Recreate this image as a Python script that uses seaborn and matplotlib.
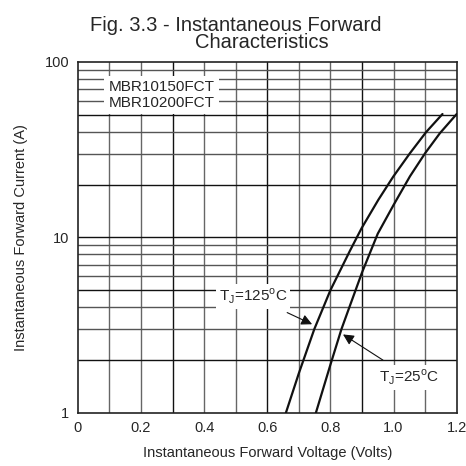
import numpy as np
import pandas as pd
import matplotlib
matplotlib.use("Agg")
import matplotlib.pyplot as plt
import seaborn as sns

# values
v_125 = [0.659, 0.700, 0.749, 0.800, 0.862, 0.899, 0.952, 0.999, 1.052, 1.103, 1.155]
i_125 = [1.0, 1.68, 3.0, 5.0, 8.4, 11.3, 16.4, 22.2, 30.2, 39.8, 50.5]
v_25 = [0.754, 0.800, 0.835, 0.859, 0.900, 0.950, 1.000, 1.052, 1.100, 1.147, 1.200]
i_25 = [1.0, 1.88, 3.0, 3.95, 6.3, 10.5, 15.3, 22.3, 30.2, 39.3, 50.5]

x_ticks = [0, 0.2, 0.4, 0.6, 0.8, 1.0, 1.2]
x_tick_labels = ["0", "0.2", "0.4", "0.6", "0.8", "1.0", "1.2"]
y_ticks = [1, 10, 100]
y_tick_labels = ["1", "10", "100"]

df = pd.DataFrame({
    "V": v_125 + v_25,
    "I": i_125 + i_25,
    "T": ["125"] * len(v_125) + ["25"] * len(v_25),
})

sns.set_style("white")
plt.rcParams["font.family"] = ["Liberation Sans", "DejaVu Sans"]

fig = plt.figure(figsize=(4.66, 4.66), dpi=100)
ax = fig.add_axes([0.167, 0.114, 0.813, 0.753])

# grid
for k, x in enumerate(np.arange(0.1, 1.2, 0.1)):
    col = "#111111" if k % 3 == 2 else "#666666"
    ax.axvline(x, color=col, lw=1.0, zorder=1)
for dec in [1, 10]:
    for m in range(2, 10):
        col = "#111111" if m in (2, 5) else "#555555"
        ax.axhline(dec * m, color=col, lw=1.0, zorder=1)
ax.axhline(10, color="#111111", lw=1.0, zorder=1)

sns.lineplot(data=df, x="V", y="I", hue="T", palette=["#111111", "#111111"],
             sort=False, estimator=None, lw=1.6, legend=False, ax=ax, zorder=3)

ax.set_yscale("log")
ax.set_xlim(0, 1.2)
ax.set_ylim(1, 100)
ax.set_xticks(x_ticks)
ax.set_xticklabels(x_tick_labels, fontsize=10.5)
ax.set_yticks(y_ticks)
ax.set_yticklabels(y_tick_labels, fontsize=10.5)
ax.minorticks_off()
ax.tick_params(length=0, pad=6)
for s in ax.spines.values():
    s.set_color("#222222")
    s.set_linewidth(1.2)

ax.set_xlabel("Instantaneous Forward Voltage (Volts)", fontsize=10.5, labelpad=8)
ax.set_ylabel("Instantaneous Forward Current (A)", fontsize=10.5, labelpad=12)

box = dict(facecolor="white", edgecolor="none", pad=2)
ax.text(0.265, 65, "MBR10150FCT\nMBR10200FCT", fontsize=11, ha="center",
        va="center", linespacing=1.15, bbox=dict(facecolor="white", edgecolor="none", pad=3), zorder=4)

ax.annotate("T$_{\\mathregular{J}}$=125$^{\\mathregular{o}}$C", xy=(0.742, 3.2), xytext=(0.555, 4.6),
            fontsize=11, ha="center", va="center", bbox=box, zorder=5,
            arrowprops=dict(arrowstyle="-|>", color="#111111", lw=0.8,
                            mutation_scale=16, shrinkA=6, shrinkB=0))
ax.annotate("T$_{\\mathregular{J}}$=25$^{\\mathregular{o}}$C", xy=(0.84, 2.8), xytext=(1.05, 1.6),
            fontsize=11, ha="center", va="center", bbox=box, zorder=5,
            arrowprops=dict(arrowstyle="-|>", color="#111111", lw=0.8,
                            mutation_scale=16, shrinkA=6, shrinkB=0))

fig.text(0.505, 0.945, "Fig. 3.3 - Instantaneous Forward", fontsize=14.5, ha="center", va="center")
fig.text(0.562, 0.908, "Characteristics", fontsize=14.5, ha="center", va="center")

fig.savefig("out.png", dpi=100)
